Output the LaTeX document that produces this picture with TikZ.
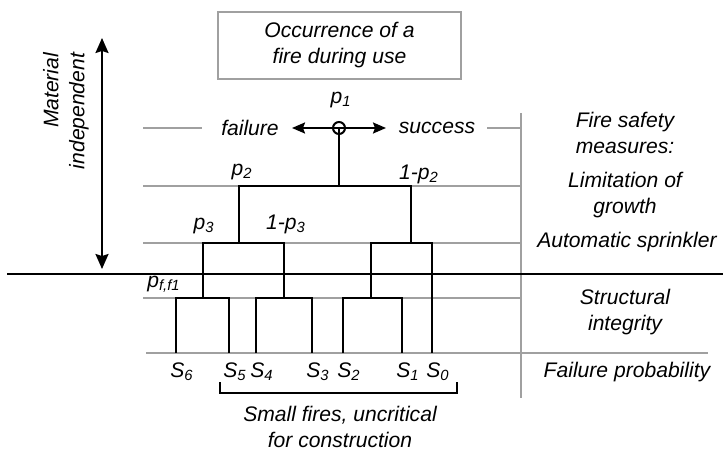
\documentclass[tikz,border=0pt]{standalone}
\usepackage{fontspec}
\setmainfont{Liberation Sans}
\usetikzlibrary{arrows.meta}
\definecolor{linegray}{RGB}{160,160,160}
\newcommand{\drawarrow}{\draw[branchline, -{Stealth[length=6.5pt,width=5.5pt,inset=1pt]}]}

\begin{document}
\begin{tikzpicture}[x=0.5pt,y=-0.5pt,
    every node/.style={font=\fontsize{10.55}{13}\selectfont\itshape, inner sep=1pt},
    levelline/.style={linegray, line width=0.9pt},
    branchline/.style={black, line width=1pt}]
    \useasboundingbox (0,0) rectangle (723,449);

    % Draw event box
    \node[draw=linegray, line width=0.9pt, minimum width=121.5pt, minimum height=33.5pt, align=center] (event) at (339.5,45.5) {Occurrence of a\\fire during use};

    % Draw level lines
    \foreach \y in {186,243,298} {
        \draw[levelline] (143,\y) -- (521,\y);
    }
    \draw[levelline] (143,128) -- (202,128);
    \draw[levelline] (487,128) -- (521,128);
    \draw[levelline] (146,353) -- (708,353);
    \draw[levelline] (521,113) -- (521,398);
    \draw[branchline] (7,274) -- (723,274);

    % Draw branch points
    \node[circle, draw, line width=1pt, minimum size=6pt, inner sep=0pt] (p1) at (339,128) {};
    \coordinate (tipL) at (292,128);
    \coordinate (tipR) at (386,128);
    \coordinate (b1) at (339,186);
    \coordinate (b2L) at (239,186);
    \coordinate (b2R) at (411,186);
    \coordinate (b3a) at (203,243);
    \coordinate (b3b) at (284,243);
    \coordinate (b3c) at (371,243);
    \coordinate (b3d) at (432,243);
    \coordinate (b4a) at (176,298);
    \coordinate (b4b) at (229,298);
    \coordinate (b4c) at (256,298);
    \coordinate (b4d) at (312,298);
    \coordinate (b4e) at (343,298);
    \coordinate (b4f) at (402,298);
    \foreach \n/\x in {6/176,5/229,4/256,3/312,2/343,1/402,0/432} {
        \coordinate (s\n) at (\x,353);
        \node[anchor=north west] (ls\n) at (\x-8,360) {S\textsubscript{\n}};
    }

    % Draw tree
    \drawarrow (p1.center) -- (tipL);
    \drawarrow (p1.center) -- (tipR);
    \draw[branchline] (p1.center) -- (b1);
    \draw[branchline] (b2L |- b3a) -- (b2L) -- (b2R) -- (b2R |- b3c);
    \draw[branchline] (b3a |- b4a) -- (b3a) -- (b3b) -- (b3b |- b4c);
    \draw[branchline] (b3c |- b4e) -- (b3c) -- (b3d) -- (s0);
    \draw[branchline] (s6) -- (b4a) -- (b4b) -- (s5);
    \draw[branchline] (s4) -- (b4c) -- (b4d) -- (s3);
    \draw[branchline] (s2) -- (b4e) -- (b4f) -- (s1);

    % Draw probabilities
    \node (fail) at (250,128) {failure};
    \node (succ) at (437,128) {success};
    \node (lp1) at (341,100) {p\textsubscript{1}};
    \node (lp2) at (242,172) {p\textsubscript{2}};
    \node (lq2) at (419,174) {1-p\textsubscript{2}};
    \node (lp3) at (204,226) {p\textsubscript{3}};
    \node (lq3) at (286,224) {1-p\textsubscript{3}};
    \node (lpf) at (164,284) {p\textsubscript{f,f1}};

    % Draw material arrow
    \coordinate (matTop) at (102,38);
    \coordinate (matBot) at (102,269);
    \draw[branchline, {Stealth[length=7.5pt,width=6.5pt,inset=1pt]}-{Stealth[length=7.5pt,width=6.5pt,inset=1pt]}] (matBot) -- (matTop);
    \node[rotate=90, align=right] (mat) at (66,111) {Material\\independent};

    % Draw small fires bracket
    \coordinate (brL) at (220,382);
    \coordinate (brR) at (457,382);
    \draw[branchline] (brL) -- ++(0,11) -| (brR);
    \node[align=center] (small) at (340,427) {Small fires, uncritical\\for construction};

    % Draw measures
    \node[align=center] (fsm) at (625,133) {Fire safety\\measures:};
    \node[align=center] (lim) at (625,195) {Limitation of\\growth};
    \node (spr) at (627,242) {Automatic sprinkler};
    \node[align=center] (str) at (625,312) {Structural\\integrity};
    \node (fprob) at (627,372) {Failure probability};
\end{tikzpicture}
\end{document}
